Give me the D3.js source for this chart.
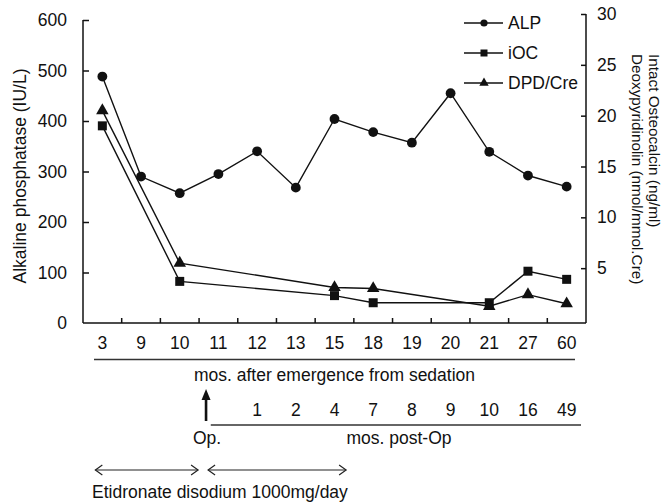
<!DOCTYPE html>
<html>
<head>
<meta charset="utf-8">
<script src="https://cdn.jsdelivr.net/npm/d3@7"></script>
<style>
  body { margin: 0; background: #fff; }
  svg { display: block; font-family: "Liberation Sans", Arial, sans-serif; }
  .axis path, .axis line { stroke: #111; stroke-width: 1.5; }
  .axis text { font-size: 17.5px; fill: #111; font-family: "Liberation Sans", Arial, sans-serif; }
  .series { fill: none; stroke: #111; stroke-width: 1.4; }
</style>
</head>
<body>
<svg id="chart" width="663" height="502"></svg>
<script>
// months after emergence from sedation
var cats = ["3", "9", "10", "11", "12", "13", "15", "18", "19", "20", "21", "27", "60"];
// ALP (IU/L), left axis
var alp = [488, 290, 257, 295, 340, 268, 404, 378, 357, 455, 339, 292, 270];
// iOC and DPD/Cre, right axis, measured at fewer visits
var markerCats = ["3", "10", "15", "18", "21", "27", "60"];
var ioc = [19.0, 3.7, 2.3, 1.6, 1.6, 4.7, 3.9];
var dpd = [20.5, 5.5, 3.1, 3.0, 1.25, 2.4, 1.5];
// months post-Op, second row of labels
var postOpCats = ["12", "13", "15", "18", "19", "20", "21", "27", "60"];
var postOpMonths = ["1", "2", "4", "7", "8", "9", "10", "16", "49"];
var leftTicks = [0, 100, 200, 300, 400, 500, 600];
var rightTicks = [5, 10, 15, 20, 25, 30];
var legendNames = ["ALP", "iOC", "DPD/Cre"];

var svg = d3.select("#chart");
var x0 = 83, x1 = 586, yBase = 323;
var fs = 17.5;

var x = d3.scaleBand().domain(cats).range([x0, x1]).padding(0);
var bw = x.bandwidth();
var cx = function(c) { return x(c) + bw / 2; };
var yL = d3.scaleLinear().domain([0, 600]).range([yBase, 20]);
var yR = d3.scaleLinear().domain([0, 30]).range([319, 14]);

// left axis
var gl = svg.append("g").attr("class", "axis")
    .attr("transform", "translate(" + x0 + ",0)")
    .call(d3.axisLeft(yL).tickValues(leftTicks).tickSize(-6).tickSizeOuter(0).tickPadding(16));
gl.select(".domain").remove();
gl.append("line").attr("y1", yL(600)).attr("y2", yBase).attr("stroke", "#111").attr("stroke-width", 1.5);
gl.selectAll(".tick").filter(function(d) { return d === 0; }).select("line").remove();

// right axis
var gr = svg.append("g").attr("class", "axis")
    .attr("transform", "translate(" + x1 + ",0)")
    .call(d3.axisRight(yR).tickValues(rightTicks).tickSize(-5).tickSizeOuter(0).tickPadding(11));
gr.select(".domain").remove();
gr.append("line").attr("y1", yR(30)).attr("y2", yBase).attr("stroke", "#111").attr("stroke-width", 1.5);

// bottom axis with ticks between the categories
var gb = svg.append("g").attr("class", "axis")
    .attr("transform", "translate(0," + yBase + ")")
    .call(d3.axisBottom(x).tickSize(0).tickPadding(14));
gb.select(".domain").remove();
gb.append("line").attr("x1", x0).attr("x2", x1).attr("stroke", "#111").attr("stroke-width", 1.5);
gb.selectAll(".sep").data(cats.slice(1)).enter().append("line")
    .attr("class", "sep")
    .attr("x1", function(d) { return x(d); })
    .attr("x2", function(d) { return x(d); })
    .attr("y1", 0).attr("y2", -5)
    .attr("stroke", "#111").attr("stroke-width", 1.5);

// axis titles
svg.append("text")
    .attr("transform", "translate(26," + 176 + ") rotate(-90)")
    .attr("text-anchor", "middle")
    .attr("font-size", fs).attr("fill", "#111")
    .text("Alkaline phosphatase (IU/L)");
svg.append("text")
    .attr("transform", "translate(649,54) rotate(90)")
    .attr("font-size", 15.3).attr("fill", "#111")
    .text("Intact Osteocalcin (ng/ml)");
svg.append("text")
    .attr("transform", "translate(632,54) rotate(90)")
    .attr("font-size", 15.3).attr("fill", "#111")
    .text("Deoxypyridinolin (nmol/mmol.Cre)");

// series
var lineL = d3.line().x(function(d) { return cx(d[0]); }).y(function(d) { return yL(d[1]); });
var lineR = d3.line().x(function(d) { return cx(d[0]); }).y(function(d) { return yR(d[1]); });

var alpPts = cats.map(function(c, i) { return [c, alp[i]]; });
var iocPts = markerCats.map(function(c, i) { return [c, ioc[i]]; });
var dpdPts = markerCats.map(function(c, i) { return [c, dpd[i]]; });

svg.append("path").attr("class", "series").attr("d", lineL(alpPts));
svg.append("path").attr("class", "series").attr("d", lineR(iocPts));
svg.append("path").attr("class", "series").attr("d", lineR(dpdPts));

var symCircle = d3.symbol().type(d3.symbolCircle).size(Math.PI * 4.9 * 4.9);
var symSquare = d3.symbol().type(d3.symbolSquare).size(9 * 9);
var symTri = d3.symbol().type(d3.symbolTriangle).size(68);

svg.selectAll(".alpPt").data(alpPts).enter().append("path")
    .attr("d", symCircle)
    .attr("transform", function(d) { return "translate(" + cx(d[0]) + "," + yL(d[1]) + ")"; })
    .attr("fill", "#111");
svg.selectAll(".iocPt").data(iocPts).enter().append("path")
    .attr("d", symSquare)
    .attr("transform", function(d) { return "translate(" + cx(d[0]) + "," + yR(d[1]) + ")"; })
    .attr("fill", "#111");
svg.selectAll(".dpdPt").data(dpdPts).enter().append("path")
    .attr("d", symTri)
    .attr("transform", function(d) { return "translate(" + cx(d[0]) + "," + yR(d[1]) + ")"; })
    .attr("fill", "#111");

// legend
var legSyms = [
    d3.symbol().type(d3.symbolCircle).size(Math.PI * 3.6 * 3.6),
    d3.symbol().type(d3.symbolSquare).size(7 * 7),
    d3.symbol().type(d3.symbolTriangle).size(38)
];
var leg = svg.append("g").attr("transform", "translate(464,23)");
legendNames.forEach(function(name, i) {
    var g = leg.append("g").attr("transform", "translate(0," + (i * 30) + ")");
    g.append("line").attr("x1", 0).attr("x2", 39).attr("stroke", "#111").attr("stroke-width", 1.4);
    g.append("path").attr("d", legSyms[i]).attr("transform", "translate(20,0)").attr("fill", "#111");
    g.append("text").attr("x", 44).attr("y", 6).attr("font-size", fs).attr("fill", "#111").text(name);
});

// first label row underline and caption
svg.append("line").attr("x1", x0 + 11).attr("x2", x1 - 11).attr("y1", 359.5).attr("y2", 359.5)
    .attr("stroke", "#333").attr("stroke-width", 1.3);
svg.append("text").attr("x", (x0 + x1) / 2).attr("y", 381).attr("text-anchor", "middle")
    .attr("font-size", fs).attr("fill", "#111").text("mos. after emergence from sedation");

// months post-Op row
svg.selectAll(".postop").data(postOpCats).enter().append("text")
    .attr("x", function(d) { return cx(d); })
    .attr("y", 416)
    .attr("text-anchor", "middle")
    .attr("font-size", fs).attr("fill", "#111")
    .text(function(d, i) { return postOpMonths[i]; });
svg.append("line").attr("x1", x(postOpCats[0]) - 27).attr("x2", x1 - 5).attr("y1", 425).attr("y2", 425)
    .attr("stroke", "#333").attr("stroke-width", 1.3);
svg.append("text").attr("x", 399).attr("y", 444).attr("text-anchor", "middle")
    .attr("font-size", fs).attr("fill", "#111").text("mos. post-Op");

// operation arrow
var opX = x("11") + 0.18 * bw;
svg.append("line").attr("x1", opX).attr("x2", opX).attr("y1", 398).attr("y2", 421)
    .attr("stroke", "#111").attr("stroke-width", 2.6);
svg.append("path")
    .attr("d", "M" + (opX - 4.5) + ",400 L" + opX + ",389 L" + (opX + 4.5) + ",400 Z")
    .attr("fill", "#111");
svg.append("text").attr("x", opX + 1).attr("y", 444).attr("text-anchor", "middle")
    .attr("font-size", fs).attr("fill", "#111").text("Op.");

// treatment period arrows
function dblArrow(xa, xb, yy) {
    svg.append("line").attr("x1", xa).attr("x2", xb).attr("y1", yy).attr("y2", yy)
        .attr("stroke", "#222").attr("stroke-width", 1.2);
    svg.append("path").attr("d", "M" + (xa + 7) + "," + (yy - 5) + " L" + xa + "," + yy + " L" + (xa + 7) + "," + (yy + 5))
        .attr("fill", "none").attr("stroke", "#222").attr("stroke-width", 1.2);
    svg.append("path").attr("d", "M" + (xb - 7) + "," + (yy - 5) + " L" + xb + "," + yy + " L" + (xb - 7) + "," + (yy + 5))
        .attr("fill", "none").attr("stroke", "#222").attr("stroke-width", 1.2);
}
dblArrow(cx("3") - 7, x("11") - 1, 470);
dblArrow(x("11") + 9, x("15") + bw * 0.8, 470);

svg.append("text").attr("x", 92).attr("y", 498)
    .attr("font-size", fs).attr("fill", "#111").text("Etidronate disodium 1000mg/day");
</script>
</body>
</html>
